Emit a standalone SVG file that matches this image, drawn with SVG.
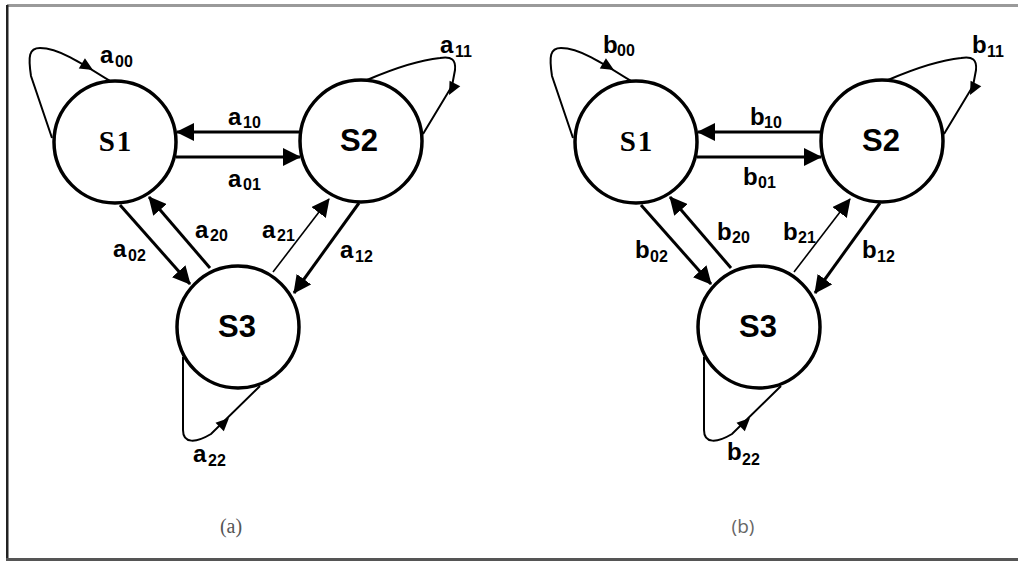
<svg xmlns="http://www.w3.org/2000/svg" xmlns:xlink="http://www.w3.org/1999/xlink" width="1018" height="561" viewBox="0 0 1018 561">
<style>
.node{fill:#fff;stroke:#000;stroke-width:3.5}
.nsa{font-family:"Liberation Sans",Arial,sans-serif;font-weight:bold;font-size:31px;text-anchor:middle;fill:#000}
.nse{font-family:"Liberation Serif","Times New Roman",serif;font-weight:bold;font-size:29px;letter-spacing:2px;text-anchor:middle;fill:#000}
.e{fill:none;stroke:#000;stroke-width:3}
.thin{fill:none;stroke:#000;stroke-width:1.6}
.loop{fill:none;stroke:#000;stroke-width:2}
.lb{font-family:"Liberation Sans",Arial,sans-serif;font-weight:bold;font-size:24px;fill:#000}
.sub{font-family:"Liberation Sans",Arial,sans-serif;font-weight:bold;font-size:16px;fill:#000}
.capa{font-family:"Liberation Serif","Times New Roman",serif;font-size:20px;fill:#555;text-anchor:middle}
.capb{font-family:"Open Sans","Liberation Sans",sans-serif;font-size:19px;fill:#666;text-anchor:middle}
</style>
<defs>
<marker id="ah" markerUnits="userSpaceOnUse" viewBox="0 0 18 18" refX="17" refY="9" markerWidth="18" markerHeight="18" orient="auto">
<path d="M0,0 L18,9 L0,18 Z" fill="#000"/>
</marker>
<path id="ahs" d="M0,0 L-13,-6 L-13,6 Z" fill="#000"/>
</defs>
<rect width="1018" height="561" fill="#fff"/>
<g id="frame">
<rect x="7" y="4" width="1011" height="3" fill="#9a9a9a"/>
<rect x="6" y="5" width="2.5" height="555" fill="#222"/>
<rect x="6" y="558" width="1012" height="3" fill="#555"/>
</g>
<g id="connectors">
<path class="e" d="M300,132 L177,132" marker-end="url(#ah)"/>
<path class="e" d="M176,157 L300,157" marker-end="url(#ah)"/>
<path class="e" d="M120,205 L190,284" marker-end="url(#ah)"/>
<path class="e" d="M210,268 L149,197" marker-end="url(#ah)"/>
<path class="thin" d="M273,272 L329,199" marker-end="url(#ah)"/>
<path class="e" d="M359,203 L294,293" marker-end="url(#ah)"/>
<path class="loop" d="M52,138 L31,76 C28,56 29,48 40,48 C58,48 80,62 110,81"/>
<use xlink:href="#ahs" href="#ahs" transform="translate(93,70) rotate(31)"/>
<path class="loop" d="M367,80 C395,68 420,60 440,58 C452,56 456,60 455,70 L452,86 L423,134"/>
<use xlink:href="#ahs" href="#ahs" transform="translate(449,95) rotate(117)"/>
<path class="loop" d="M183,357 L183,430 C183,444 196,443 211,434 L260,386"/>
<use xlink:href="#ahs" href="#ahs" transform="translate(229,418) rotate(-44)"/>
<path class="e" d="M821,132 L698,132" marker-end="url(#ah)"/>
<path class="e" d="M697,157 L821,157" marker-end="url(#ah)"/>
<path class="e" d="M641,205 L711,284" marker-end="url(#ah)"/>
<path class="e" d="M731,268 L670,197" marker-end="url(#ah)"/>
<path class="thin" d="M794,272 L850,199" marker-end="url(#ah)"/>
<path class="e" d="M880,203 L815,293" marker-end="url(#ah)"/>
<path class="loop" d="M573,138 L552,76 C549,56 550,48 561,48 C579,48 601,62 631,81"/>
<use xlink:href="#ahs" href="#ahs" transform="translate(614,70) rotate(31)"/>
<path class="loop" d="M888,80 C916,68 941,60 961,58 C973,56 977,60 976,70 L973,86 L944,134"/>
<use xlink:href="#ahs" href="#ahs" transform="translate(970,95) rotate(117)"/>
<path class="loop" d="M704,357 L704,430 C704,444 717,443 732,434 L781,386"/>
<use xlink:href="#ahs" href="#ahs" transform="translate(750,418) rotate(-44)"/>
</g>
<g id="a-S1"><circle class="node" cx="115" cy="142" r="61"/><text class="nse" x="116" y="151">S1</text></g>
<g id="a-S2"><circle class="node" cx="361" cy="141" r="61"/><text class="nsa" x="359" y="151">S2</text></g>
<g id="a-S3"><circle class="node" cx="238" cy="327" r="61"/><text class="nsa" x="237" y="337">S3</text></g>
<g id="b-S1"><circle class="node" cx="636" cy="142" r="61"/><text class="nse" x="637" y="151">S1</text></g>
<g id="b-S2"><circle class="node" cx="882" cy="141" r="61"/><text class="nsa" x="881" y="151">S2</text></g>
<g id="b-S3"><circle class="node" cx="759" cy="327" r="61"/><text class="nsa" x="758" y="337">S3</text></g>
<g id="labels">
<text><tspan class="lb" x="100" y="63">a</tspan><tspan class="sub" x="115" y="67">00</tspan></text>
<text><tspan class="lb" x="228" y="125">a</tspan><tspan class="sub" x="243" y="128">10</tspan></text>
<text><tspan class="lb" x="228" y="187">a</tspan><tspan class="sub" x="243" y="190">01</tspan></text>
<text><tspan class="lb" x="440" y="53">a</tspan><tspan class="sub" x="455" y="57">11</tspan></text>
<text><tspan class="lb" x="195" y="238">a</tspan><tspan class="sub" x="210" y="241">20</tspan></text>
<text><tspan class="lb" x="262" y="238">a</tspan><tspan class="sub" x="277" y="241">21</tspan></text>
<text><tspan class="lb" x="113" y="257">a</tspan><tspan class="sub" x="128" y="261">02</tspan></text>
<text><tspan class="lb" x="340" y="258">a</tspan><tspan class="sub" x="355" y="262">12</tspan></text>
<text><tspan class="lb" x="193" y="462">a</tspan><tspan class="sub" x="208" y="466">22</tspan></text>
<text><tspan class="lb" x="603" y="53">b</tspan><tspan class="sub" x="617" y="56">00</tspan></text>
<text><tspan class="lb" x="750" y="125">b</tspan><tspan class="sub" x="764" y="128">10</tspan></text>
<text><tspan class="lb" x="743" y="185">b</tspan><tspan class="sub" x="758" y="188">01</tspan></text>
<text><tspan class="lb" x="972" y="53">b</tspan><tspan class="sub" x="987" y="57">11</tspan></text>
<text><tspan class="lb" x="717" y="240">b</tspan><tspan class="sub" x="732" y="243">20</tspan></text>
<text><tspan class="lb" x="783" y="240">b</tspan><tspan class="sub" x="798" y="243">21</tspan></text>
<text><tspan class="lb" x="635" y="258">b</tspan><tspan class="sub" x="650" y="262">02</tspan></text>
<text><tspan class="lb" x="862" y="258">b</tspan><tspan class="sub" x="877" y="262">12</tspan></text>
<text><tspan class="lb" x="727" y="460">b</tspan><tspan class="sub" x="742" y="465">22</tspan></text>
<text class="capa" x="231" y="533">(a)</text>
<text class="capb" x="743" y="533">(b)</text>
</g>
</svg>
